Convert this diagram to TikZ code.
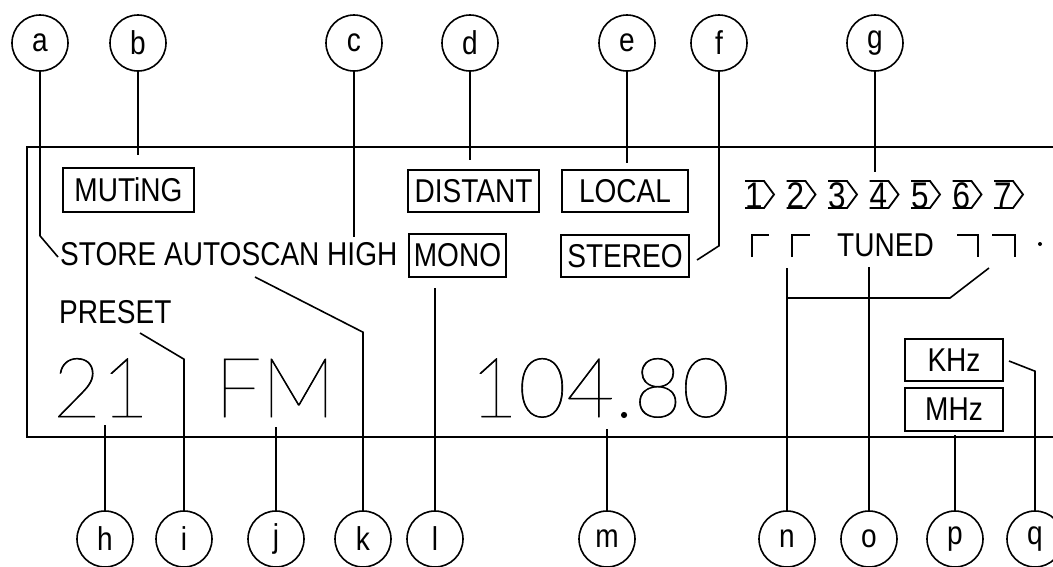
\documentclass[tikz,border=0pt]{standalone}
\usepackage{fontspec}
\setmainfont{Liberation Sans}[FakeStretch=0.85]
\newfontfamily\segfont{Lato Thin}[FakeBold=0.8]
\usetikzlibrary{positioning}
\newcommand\lblfont{\fontsize{33}{36}\selectfont}
\newcommand\chvfont{\fontsize{37}{40}\selectfont}
\newcommand\bigfont{\segfont\fontsize{83}{83}\selectfont}
\tikzset{
  callout/.style={circle,draw,line width=1.6pt,minimum size=56pt,inner sep=0pt,font=\lblfont},
  indbox/.style={draw,line width=1.8pt,inner sep=0pt,font=\lblfont},
  lead/.style={line width=1.6pt},
  seg/.style={line width=1.8pt},
  lbl/.style={inner sep=0pt,font=\lblfont},
  bigdig/.style={inner sep=0pt,font=\bigfont}
}
\begin{document}
\begin{tikzpicture}[x=1pt,y=-1pt]
  \useasboundingbox (0,0) rectangle (1053,566);
  % Display panel (open to the right)
  \draw[lead] (1060,147) -- (27,147) -- (27,437) -- (1060,437);

  % Indicator boxes
  \node[indbox, minimum width=131pt, minimum height=44pt] (mut) at (128.5,190) {MUTiNG};
  \node[indbox, minimum width=131pt, minimum height=42pt] (dist) at (473.5,191) {DISTANT};
  \node[indbox, minimum width=126pt, minimum height=42pt] (loc) at (625,191) {LOCAL};
  \node[indbox, minimum width=97pt, minimum height=43pt] (mono) at (457.5,255.5) {MONO};
  \node[indbox, minimum width=128pt, minimum height=42pt] (ster) at (625,256) {STEREO};
  \node[indbox, minimum width=98pt, minimum height=42pt] (khz) at (954,360) {KHz};
  \node[indbox, minimum width=98pt, minimum height=43pt, below=5pt of khz] (mhz) {MHz};

  % Plain segment texts
  \node[lbl, anchor=base west] (store) at (60,265) {STORE AUTOSCAN HIGH};
  \node[lbl, anchor=base west] (pres) at (59,323) {PRESET};
  \node[lbl, anchor=base west] (tuned) at (837,256) {TUNED};

  % Large digits
  \node[bigdig, anchor=base] (chan) at (101,417) {21};
  \node[bigdig, anchor=base] (band) at (275,417) {FM};
  \node[bigdig, anchor=base] (freq) at (600,417) {104.80};

  % Preset memory chevrons
  \foreach \d [count=\i from 0] in {1,...,7} {
    \node[lbl, font=\chvfont, anchor=base west] (mem\d) at ({745+41.5*\i},208) {\d};
    \draw[seg] ({745+41.5*\i},181) -- ++(19,0) -- ++(10,13.5) -- ++(-10,13.5) -- ++(-19,0);
  }

  % Tuning brackets
  \draw[seg] (752,257) |- (769,235);
  \draw[seg] (792,257) |- (810,235);
  \draw[seg] (957,235) -| (978,257);
  \draw[seg] (992,235) -| (1015,257);
  \fill (1040,244) circle (2pt);

  % Callout circles
  \foreach \n/\x in {a/40,b/138,c/354,d/470,e/627,f/719,g/875}
    \node[callout] (\n) at (\x,43) {\n};
  \foreach \n/\x in {h/105,i/184,j/276,k/363,l/435,m/607,n/787,o/869,p/955,q/1035}
    \node[callout] (\n) at (\x,539) {\n};

  % Leader ends
  \coordinate (a-end) at (58,257);
  \coordinate (b-end) at (138,155);
  \coordinate (c-end) at (354,237);
  \coordinate (d-end) at (470,160);
  \coordinate (e-end) at (627,163);
  \coordinate (f-end) at (697,260);
  \coordinate (g-end) at (875,172);
  \coordinate (h-end) at (105,425);
  \coordinate (i-end) at (140,333);
  \coordinate (j-end) at (276,427);
  \coordinate (k-end) at (255,277);
  \coordinate (l-end) at (435,288);
  \coordinate (m-end) at (607,429);
  \coordinate (n-end) at (787,268);
  \coordinate (n-tip) at (989,268);
  \coordinate (o-end) at (869,267);
  \coordinate (p-end) at (955,435);
  \coordinate (q-end) at (1009,361);

  % Leaders
  \draw[lead] (a.south) -- ++(0,164) -- (a-end);
  \foreach \n in {b,c,d,e,g}
    \draw[lead] (\n) -- (\n-end);
  \draw[lead] (f.south) -- ++(0,174) -- (f-end);
  \foreach \n in {h,j,l,m,o,p}
    \draw[lead] (\n) -- (\n-end);
  \draw[lead] (i.north) -- ++(0,-151) -- (i-end);
  \draw[lead] (k.north) -- ++(0,-178) -- (k-end);
  \draw[lead] (q.north) -- ++(0,-139) -- (q-end);
  \draw[lead] (n) -- (n-end);
  \draw[lead] (n |- 0,298) -- ++(163,0) -- (n-tip);
\end{tikzpicture}
\end{document}
